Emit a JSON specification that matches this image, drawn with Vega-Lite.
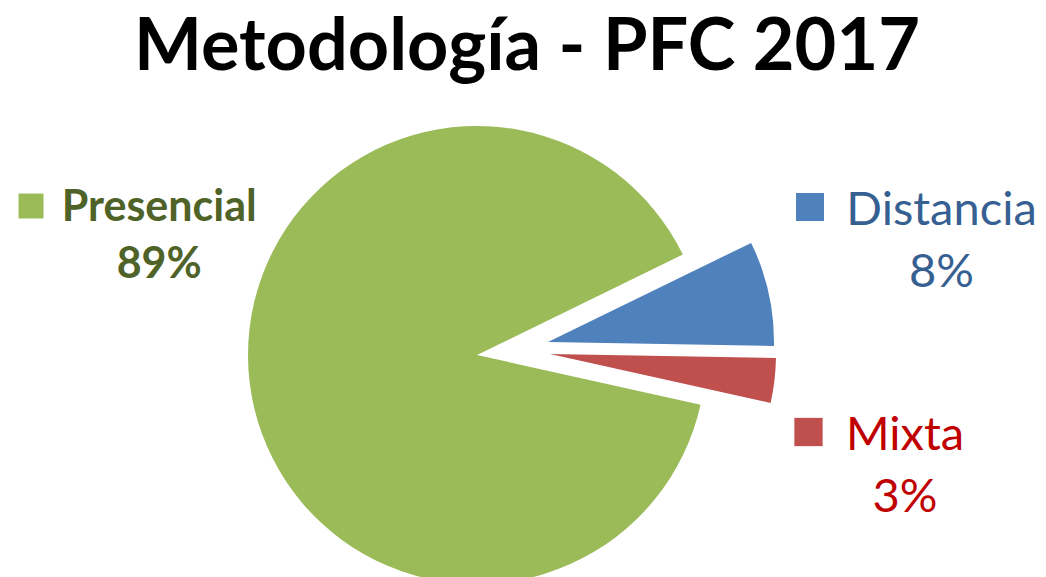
{
  "$schema": "https://vega.github.io/schema/vega-lite/v6.json",
  "autosize": {"type": "none"},
  "width": 954,
  "height": 444,
  "padding": {"top": 133, "left": 0, "right": 92, "bottom": 0},
  "background": "white",
  "view": {"stroke": null},
  "title": {
    "text": "Metodología - PFC 2017",
    "font": "Lato",
    "fontSize": 72,
    "fontWeight": "bold",
    "color": "#000000",
    "anchor": "middle",
    "frame": "group",
    "baseline": "alphabetic",
    "offset": -62,
    "dx": 50
  },
  "data": {
    "values": [
      {"cat": "Distancia", "value": 7.5, "label": ["Distancia", "8%"]},
      {"cat": "Mixta", "value": 3.2, "label": ["Mixta", "3%"]},
      {"cat": "Presencial", "value": 89.3, "label": ["Presencial", "89%"]}
    ]
  },
  "encoding": {
    "theta": {"field": "value", "type": "quantitative", "stack": true, "scale": {"range": [1.117, 7.4002]}},
    "order": {"field": "cat", "type": "ordinal", "sort": "ascending"},
    "color": {"field": "cat", "type": "nominal", "legend": null,
      "scale": {"domain": ["Distancia", "Mixta", "Presencial"], "range": ["#4F81BD", "#C0504D", "#9BBB59"]}}
  },
  "layer": [
    {
      "mark": {"type": "arc", "radius": 229},
      "encoding": {"opacity": {"condition": {"test": "datum.cat === 'Presencial'", "value": 1}, "value": 0}}
    },
    {
      "mark": {"type": "arc", "radius": 226, "xOffset": 71, "yOffset": -13},
      "encoding": {"opacity": {"condition": {"test": "datum.cat === 'Distancia'", "value": 1}, "value": 0}}
    },
    {
      "mark": {"type": "arc", "radius": 226, "xOffset": 73, "yOffset": -1},
      "encoding": {"opacity": {"condition": {"test": "datum.cat === 'Mixta'", "value": 1}, "value": 0}}
    },
    {
      "mark": {"type": "point", "shape": "square", "filled": true, "size": 625, "xOffset": -446, "yOffset": -149},
      "encoding": {"opacity": {"condition": {"test": "datum.cat === 'Presencial'", "value": 1}, "value": 0}}
    },
    {
      "mark": {"type": "point", "shape": "square", "filled": true, "size": 784, "xOffset": 333, "yOffset": -148},
      "encoding": {"opacity": {"condition": {"test": "datum.cat === 'Distancia'", "value": 1}, "value": 0}}
    },
    {
      "mark": {"type": "point", "shape": "square", "filled": true, "size": 800, "xOffset": 331.5, "yOffset": 77},
      "encoding": {"opacity": {"condition": {"test": "datum.cat === 'Mixta'", "value": 1}, "value": 0}}
    },
    {
      "mark": {"type": "text", "radius": 320, "dx": 0, "dy": -172, "align": "center", "baseline": "alphabetic",
        "font": "Lato", "fontSize": 43, "fontWeight": "bold", "fill": "#4F6228", "lineHeight": 57},
      "encoding": {
        "color": null,
        "detail": {"field": "cat", "type": "nominal"},
        "text": {"condition": {"test": "datum.cat === 'Presencial'", "field": "label", "type": "nominal"}, "value": ""}
      }
    },
    {
      "mark": {"type": "text", "radius": 440, "dx": 35, "dy": -35, "align": "center", "baseline": "alphabetic",
        "font": "Lato", "fontSize": 47, "fill": "#376092", "lineHeight": 62},
      "encoding": {
        "color": null,
        "detail": {"field": "cat", "type": "nominal"},
        "text": {"condition": {"test": "datum.cat === 'Distancia'", "field": "label", "type": "nominal"}, "value": ""}
      }
    },
    {
      "mark": {"type": "text", "radius": 420, "dx": 11, "dy": 46, "align": "center", "baseline": "alphabetic",
        "font": "Lato", "fontSize": 47, "fill": "#C00000", "lineHeight": 62},
      "encoding": {
        "color": null,
        "detail": {"field": "cat", "type": "nominal"},
        "text": {"condition": {"test": "datum.cat === 'Mixta'", "field": "label", "type": "nominal"}, "value": ""}
      }
    }
  ]
}
